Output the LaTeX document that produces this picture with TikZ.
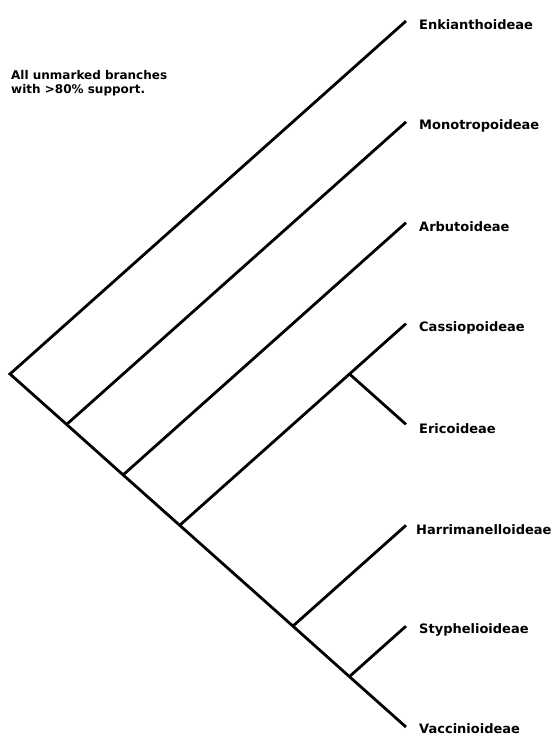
\documentclass[tikz,border=0pt]{standalone}
\usepackage{fontspec}
\setmainfont{DejaVu Sans}
\usetikzlibrary{positioning}

\tikzset{
  branch/.style={line width=2.8pt, line join=miter, line cap=butt},
  taxon/.style={font=\bfseries\fontsize{13}{15}\selectfont, inner sep=0pt, anchor=base west, yshift=-4pt},
  note/.style={font=\bfseries\fontsize{12}{14}\selectfont, inner sep=0pt, anchor=north west, align=left}
}

\begin{document}
\begin{tikzpicture}[x=1pt, y=-1pt]
      \useasboundingbox (0,0) rectangle (553,736);

      % tips of the branches
      \coordinate (tEnk) at (406,21);
      \coordinate (tMon) at (406,121.9);
      \coordinate (tArb) at (406,222.7);
      \coordinate (tCas) at (406,323.6);
      \coordinate (tEri) at (406,424.4);
      \coordinate (tHar) at (406,525.3);
      \coordinate (tSty) at (406,626.1);
      \coordinate (tVac) at (406,727);

      % inner nodes
      \coordinate (root) at (10,374);
      \coordinate (nMon) at (66.6,424.4);
      \coordinate (nArb) at (123.1,474.9);
      \coordinate (nCas) at (179.7,525.3);
      \coordinate (nEri) at (349.5,374);
      \coordinate (nHar) at (292.9,626.1);
      \coordinate (nSty) at (349.4,676.6);

      \draw[branch] (tEnk) -- (root) -- (nMon) -- (nArb) -- (nCas) -- (nHar) -- (nSty) -- (tVac);
      \draw[branch] (nMon) -- (tMon);
      \draw[branch] (nArb) -- (tArb);
      \draw[branch] (nCas) -- (nEri) -- (tCas);
      \draw[branch] (nEri) -- (tEri);
      \draw[branch] (nHar) -- (tHar);
      \draw[branch] (nSty) -- (tSty);

      \node[taxon, right=13pt of tEnk] (enk) {Enkianthoideae};
      \node[taxon, right=13pt of tMon] (mon) {Monotropoideae};
      \node[taxon, right=13pt of tArb] (arb) {Arbutoideae};
      \node[taxon, right=13pt of tCas] (cas) {Cassiopoideae};
      \node[taxon, right=13pt of tEri] (eri) {Ericoideae};
      \node[taxon, right=10pt of tHar] (har) {Harrimanelloideae};
      \node[taxon, right=13pt of tSty] (sty) {Styphelioideae};
      \node[taxon, right=13pt of tVac, yshift=2pt] (vac) {Vaccinioideae};

      \node[note] (support) at (11,70) {All unmarked branches\\with >80\% support.};
    \end{tikzpicture}
\end{document}
